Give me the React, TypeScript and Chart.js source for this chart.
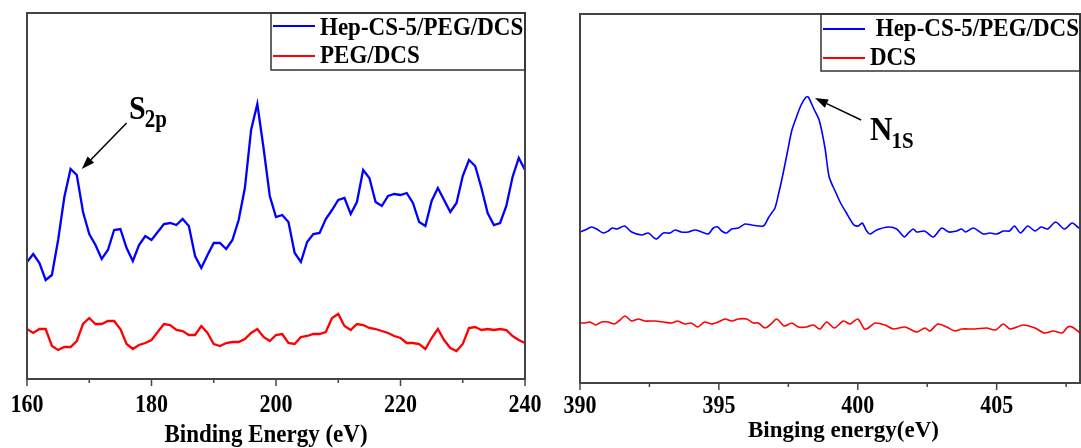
import React, { useEffect, useRef } from 'react';
import { Chart, registerables } from 'chart.js';
Chart.register(...registerables);

// ---------- Left panel (S2p region) ----------
const leftEnergy = [160,161,162,163,164,165,166,167,168,169,170,171,172,173,174,175,176,177,178,179,180,181,182,183,184,185,186,187,188,189,190,191,192,193,194,195,196,197,198,199,200,201,202,203,204,205,206,207,208,209,210,211,212,213,214,215,216,217,218,219,220,221,222,223,224,225,226,227,228,229,230,231,232,233,234,235,236,237,238,239,240];
const leftHep = [117,125,116,99,104,139,182,210,204,167,145,134,120,129,149,150,131,118,134,143,139,147,155,156,154,160,153,123,111,124,136,136,130,139,159,191,249,275,231,183,162,164,157,126,117,137,145,146,160,169,179,181,165,177,209,201,177,173,183,185,184,186,176,157,153,178,191,179,167,176,203,219,213,191,166,154,156,173,202,221,209];
const leftPeg = [50,46,50,50,33,29,32,32,38,55,61,55,55,58,58,50,35,30,34,36,39,47,55,54,49,48,44,44,53,46,35,33,36,37,37,40,46,50,42,38,44,45,36,35,42,43,45,45,47,61,65,53,49,55,54,51,50,48,46,43,41,36,36,35,30,41,50,39,31,28,35,51,52,49,50,49,50,49,43,39,36];
const leftTicks = [160,170,180,190,200,210,220,230,240];
const leftTickLabels = ['160','','180','','200','','220','','240'];
const leftLabels = ['Hep-CS-5/PEG/DCS', 'PEG/DCS'];
const leftTitle = 'Binding Energy (eV)';

// ---------- Right panel (N1s region) ----------
const rightEnergyHep = [390.0,390.18,390.42,390.6,390.84,391.02,391.16,391.34,391.6,391.86,392.22,392.46,392.74,393.0,393.24,393.42,393.64,393.9,394.14,394.38,394.62,394.8,394.96,395.1,395.28,395.46,395.7,395.94,396.18,396.6,396.78,396.9,397.02,397.14,397.3,397.46,397.62,397.78,397.96,398.14,398.22,398.42,398.61,398.82,398.97,399.2,399.38,399.57,399.86,400.02,400.16,400.32,400.44,400.68,401.1,401.4,401.68,401.82,402.0,402.12,402.4,402.72,403.02,403.28,403.56,403.74,403.88,404.16,404.52,404.76,405.0,405.24,405.46,405.64,405.86,406.12,406.38,406.6,406.84,407.12,407.44,407.72,407.96,408.0];
const rightHep = [151,153,156,154,150,152,155,154,157,151,148,150,144,150,150,153,151,151,153,151,149,155,156,152,150,154,155,159,158,157,165,170,175,188,208,230,252,265,278,286,286,274,263,235,206,191,180,171,158,157,160,152,149,153,156,154,146,150,154,151,152,146,155,151,152,154,151,155,149,150,149,152,152,157,150,157,152,156,154,161,154,160,155,156];
const rightEnergyDcs = [390.0,390.18,390.36,390.56,390.78,391.02,391.24,391.44,391.62,391.86,392.1,392.34,392.7,393.0,393.3,393.52,393.76,394.0,394.24,394.48,394.74,394.98,395.22,395.46,395.7,396.0,396.24,396.42,396.66,396.88,397.08,397.36,397.62,397.86,398.16,398.4,398.64,398.88,399.16,399.48,399.72,400.0,400.24,400.38,400.62,400.98,401.28,401.7,402.12,402.42,402.6,402.88,403.2,403.5,403.74,404.22,404.64,404.96,405.24,405.48,405.96,406.38,406.72,407.04,407.36,407.56,407.72,407.96,408.0];
const rightDcs = [60,60,61,58,61,61,59,63,67,62,64,62,62,61,60,62,59,60,56,61,59,61,64,62,64,64,60,60,55,59,64,57,60,56,56,58,54,61,55,62,59,64,54,55,60,58,54,56,51,55,52,59,56,52,54,54,55,53,59,54,58,55,50,52,50,56,56,51,50];
const rightTicks = [390,392.5,395,397.5,400,402.5,405,407.5];
const rightTickLabels = ['390','','395','','400','','405',''];
const rightLabels = [' Hep-CS-5/PEG/DCS', 'DCS'];
const rightTitle = 'Binging energy(eV)';

const SERIF = '"Liberation Serif", "Times New Roman", serif';

function stretchText(ctx: any, text: string, x: number, y: number, size: number, sy: number, align: string) {
  ctx.save();
  ctx.translate(x, y);
  ctx.scale(1, sy);
  ctx.font = `bold ${size}px ${SERIF}`;
  ctx.textAlign = align;
  ctx.textBaseline = 'alphabetic';
  ctx.fillStyle = '#000';
  ctx.fillText(text, 0, 0);
  ctx.restore();
}

const overlayPlugin = {
  id: 'overlay',
  afterDraw(chart: any, _args: any, o: any) {
    const { ctx, chartArea: a, scales } = chart;
    const xs = scales.x, ys = scales.y;
    ctx.save();
    // frame
    ctx.strokeStyle = '#444';
    ctx.lineWidth = 2;
    ctx.strokeRect(a.left, a.top, a.right - a.left, a.bottom - a.top);
    // ticks + labels
    ctx.lineWidth = 1.5;
    o.ticks.forEach((v: number, i: number) => {
      const px = xs.getPixelForValue(v);
      const lab = o.tickLabels[i];
      const len = lab ? 7 : 4;
      ctx.strokeStyle = '#444';
      ctx.beginPath();
      ctx.moveTo(px, a.bottom);
      ctx.lineTo(px, a.bottom + len);
      ctx.stroke();
      if (lab) stretchText(ctx, lab, px, a.bottom + o.tickBase, 22, o.tickSy, 'center');
    });
    // axis title
    stretchText(ctx, o.title, (a.left + a.right) / 2 + o.titleDx, a.bottom + o.titleBase, 23, o.titleSy, 'center');
    // legend
    const L = o.legend;
    const bx = a.right - L.width;
    const by = a.top;
    ctx.lineWidth = 1.5;
    ctx.strokeStyle = '#333';
    ctx.strokeRect(bx, by, L.width, L.height);
    chart.data.datasets.forEach((ds: any, i: number) => {
      ctx.strokeStyle = ds.borderColor;
      ctx.lineWidth = 2;
      ctx.beginPath();
      ctx.moveTo(bx + 2, by + L.lineY[i]);
      ctx.lineTo(bx + L.sampleW, by + L.lineY[i]);
      ctx.stroke();
      stretchText(ctx, ds.label, bx + L.textX[i], by + L.baseY[i], 23, L.sy, 'left');
    });
    // annotation with arrow
    const N = o.note;
    const tx = xs.getPixelForValue(N.tip[0]), ty = ys.getPixelForValue(N.tip[1]);
    const sx = xs.getPixelForValue(N.start[0]), sy = ys.getPixelForValue(N.start[1]);
    ctx.strokeStyle = '#000';
    ctx.fillStyle = '#000';
    ctx.lineWidth = 1.5;
    const ang = Math.atan2(ty - sy, tx - sx);
    const hl = 13, hw = 4.5;
    const bxp = tx - hl * Math.cos(ang), byp = ty - hl * Math.sin(ang);
    ctx.beginPath();
    ctx.moveTo(sx, sy);
    ctx.lineTo(bxp, byp);
    ctx.stroke();
    ctx.beginPath();
    ctx.moveTo(tx, ty);
    ctx.lineTo(bxp + hw * Math.sin(ang), byp - hw * Math.cos(ang));
    ctx.lineTo(bxp - hw * Math.sin(ang), byp + hw * Math.cos(ang));
    ctx.closePath();
    ctx.fill();
    const lx = xs.getPixelForValue(N.label[0]), ly = ys.getPixelForValue(N.label[1]);
    stretchText(ctx, N.main, lx, ly, N.mainSize, N.sy, 'left');
    ctx.font = `bold ${N.mainSize}px ${SERIF}`;
    const w = ctx.measureText(N.main).width;
    stretchText(ctx, N.sub, lx + w - 1, ly + N.subDrop, N.subSize, N.sy, 'left');
    ctx.restore();
  },
};

function makeConfig(p: any) {
  return {
    type: 'line',
    data: { datasets: p.datasets },
    options: {
      animation: false,
      responsive: false,
      maintainAspectRatio: false,
      layout: { padding: p.padding },
      plugins: {
        legend: { display: false },
        tooltip: { enabled: false },
        overlay: p.overlay,
      },
      elements: { point: { radius: 0 } },
      scales: {
        x: {
          type: 'linear',
          min: p.xMin,
          max: p.xMax,
          afterFit: (s: any) => { s.height = p.xHeight; },
          ticks: { display: false },
          grid: { display: false },
          border: { display: false },
          title: { display: false },
        },
        y: { display: false, min: p.yMin, max: p.yMax },
      },
    },
    plugins: [overlayPlugin],
  };
}

function Panel(props: { cfg: any; width: number; height: number; left: number }) {
  const ref = useRef<HTMLCanvasElement>(null);
  useEffect(() => {
    if (!ref.current) return;
    const chart = new Chart(ref.current, props.cfg as any);
    return () => chart.destroy();
  }, []);
  return (
    <canvas
      ref={ref}
      width={props.width}
      height={props.height}
      style={{ position: 'absolute', left: props.left, top: 0, width: props.width, height: props.height }}
    />
  );
}

const toPts = (xs: number[], ys: number[]) => xs.map((x, i) => ({ x, y: ys[i] }));

export default function App() {
  const leftCfg = makeConfig({
    datasets: [
      { label: leftLabels[0], data: toPts(leftEnergy, leftHep), borderColor: '#0000FF', borderWidth: 2.3, tension: 0, pointRadius: 0 },
      { label: leftLabels[1], data: toPts(leftEnergy, leftPeg), borderColor: '#FF0000', borderWidth: 2.3, tension: 0, pointRadius: 0 },
    ],
    padding: { left: 27, top: 13, right: 35, bottom: 0 },
    xMin: 160, xMax: 240, yMin: 0, yMax: 366,
    xHeight: 69,
    overlay: {
      ticks: leftTicks, tickLabels: leftTickLabels, tickBase: 33, tickSy: 1.15,
      title: leftTitle, titleDx: -10, titleBase: 63, titleSy: 1.12,
      legend: { width: 254, height: 57, lineY: [13, 43], baseY: [22, 50], sampleW: 44, textX: [49, 49], sy: 1.12 },
      note: { tip: [168.8, 210], start: [176.0, 256], label: [176.4, 260], main: 'S', sub: '2p', mainSize: 30, subSize: 21, subDrop: 8, sy: 1.15 },
    },
  });
  const rightCfg = makeConfig({
    datasets: [
      { label: rightLabels[0], data: toPts(rightEnergyHep, rightHep), borderColor: '#0000FF', borderWidth: 1.6, tension: 0.25, pointRadius: 0 },
      { label: rightLabels[1], data: toPts(rightEnergyDcs, rightDcs), borderColor: '#FF0000', borderWidth: 1.6, tension: 0.25, pointRadius: 0 },
    ],
    padding: { left: 20, top: 14, right: 1, bottom: 0 },
    xMin: 390, xMax: 408, yMin: 0, yMax: 369,
    xHeight: 65,
    overlay: {
      ticks: rightTicks, tickLabels: rightTickLabels, tickBase: 30, tickSy: 1.1,
      title: rightTitle, titleDx: 13.5, titleBase: 54, titleSy: 1.03,
      legend: { width: 259, height: 57, lineY: [15, 44], baseY: [22, 51], sampleW: 44, textX: [49, 49], sy: 1.05 },
      note: { tip: [398.46, 285], start: [400.12, 263], label: [400.44, 243], main: 'N', sub: '1S', mainSize: 31, subSize: 21, subDrop: 8, sy: 1.1 },
    },
  });
  return (
    <div style={{ position: 'fixed', left: 0, top: 0, width: 1081, height: 448, background: '#fff' }}>
      <Panel cfg={leftCfg} width={560} height={448} left={0} />
      <Panel cfg={rightCfg} width={521} height={448} left={560} />
    </div>
  );
}
